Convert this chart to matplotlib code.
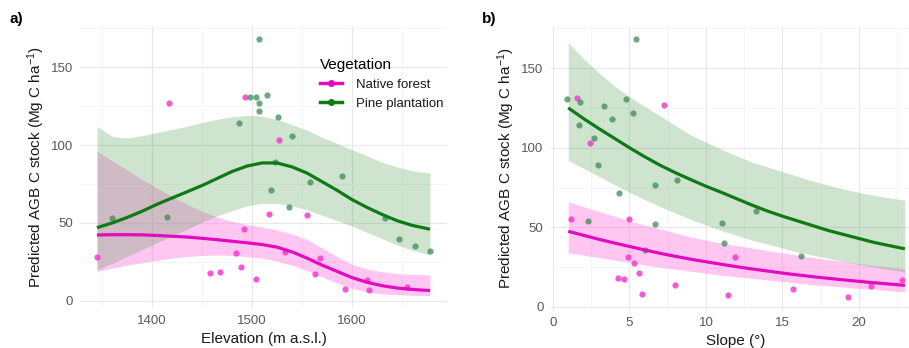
import matplotlib
matplotlib.use("Agg")
import matplotlib.pyplot as plt
from matplotlib.lines import Line2D
from matplotlib.ticker import MultipleLocator

plt.rcParams['font.family'] = ['Liberation Sans', 'DejaVu Sans']
plt.rcParams['mathtext.fontset'] = 'custom'
plt.rcParams['mathtext.rm'] = 'Liberation Sans'
plt.rcParams['mathtext.it'] = 'Liberation Sans:italic'
plt.rcParams['mathtext.default'] = 'regular'

# ---------------- data: panel a (elevation) ----------------
elev_native_x = [1345, 1417, 1493, 1527, 1517, 1555, 1492, 1484, 1489, 1458, 1468, 1504,
                 1533, 1563, 1568, 1593, 1615, 1617, 1655]
elev_native_y = [28, 127, 131, 103, 56, 55, 46, 31, 22, 17.7, 18.8, 14,
                 31.6, 17, 27.5, 8, 13.5, 7, 9]
elev_pine_x = [1507, 1360, 1415, 1487, 1498, 1504, 1515, 1507, 1507, 1526, 1540, 1523,
               1519, 1537, 1558, 1590, 1633, 1647, 1663, 1678]
elev_pine_y = [168, 53, 54, 114, 130.5, 130.5, 132, 126.7, 122, 117.7, 106, 89,
               71, 60, 76.5, 80, 53.4, 40, 35, 32]

elev_grid = [1345, 1360, 1375, 1390, 1405, 1420, 1435, 1450, 1465, 1480, 1495, 1510,
             1525, 1540, 1555, 1570, 1585, 1600, 1615, 1630, 1645, 1660, 1678]
elev_pine_fit = [47, 50, 53.5, 57.5, 62, 66, 70, 74, 78.5, 83, 86.5, 88.5,
                 88.5, 86, 82, 76.5, 71, 65, 60, 55.5, 51.5, 48.5, 46]
elev_pine_lo = [20, 24, 28.5, 33, 37.5, 41.5, 46, 50.5, 54.5, 58, 61, 62.5,
                62.5, 61, 58.5, 55, 51.5, 48, 44, 40, 36, 32.5, 29.5]
elev_pine_hi = [112, 105.5, 104.5, 106, 108, 110, 112, 114.5, 116.5, 118, 119, 118.5,
                116.5, 113, 109.5, 105, 101, 97, 93, 89, 86, 83.5, 82]
elev_native_fit = [42.3, 42.5, 42.5, 42.4, 42, 41.5, 41, 40.2, 39.3, 38.3, 37.3, 36.2,
                   34.5, 31.5, 27.5, 23, 19, 15, 12, 9.8, 8.3, 7.4, 6.7]
elev_native_lo = [19, 21, 23, 24.5, 26, 27.5, 28.5, 29.2, 29.5, 29.2, 28.5, 27.5,
                  25.5, 23, 19.5, 15.5, 11.5, 8, 5.8, 4.6, 4, 3.7, 3.5]
elev_native_hi = [96, 90, 84, 78, 72.5, 67, 62, 57.5, 54, 51, 49, 47.5,
                  45.5, 43, 39.5, 34, 28.5, 23.5, 20.5, 18.8, 17.6, 17, 16.7]

# ---------------- data: panel b (slope) ----------------
slope_native_x = [1.55, 7.25, 2.4, 1.2, 4.97, 4.92, 5.3, 5.6, 4.27, 4.64, 5.8, 8.0,
                  11.46, 11.9, 15.7, 19.26, 20.8, 22.8]
slope_native_y = [131, 127, 103, 55, 55.5, 31.2, 27.3, 21.4, 18.4, 17.6, 8, 13.6,
                  7.8, 31.2, 11.3, 6.3, 13.2, 16.8]
slope_pine_x = [5.4, 0.94, 1.76, 1.72, 3.33, 3.83, 4.75, 5.23, 2.68, 2.92, 4.31, 6.67,
                8.08, 2.31, 6.67, 11.02, 11.2, 13.27, 16.19, 6.0]
slope_pine_y = [168, 130.6, 128.5, 114.5, 126.4, 118, 130.6, 122, 106.3, 89.3, 71.3, 76.3,
                79.7, 53.7, 52.4, 53, 40, 60, 32, 35.8]

slope_grid = [1, 2, 3, 4, 5, 6, 7, 8, 9, 10, 11, 12, 13, 14, 15, 16, 17, 18, 19, 20, 21, 22, 23]
slope_pine_fit = [125, 118.3, 112, 106, 100, 94.3, 89, 84.3, 80, 75.8, 72, 68, 64,
                  60.3, 57, 54, 51, 48, 45.5, 43, 40.5, 38.5, 36.5]
slope_pine_lo = [92, 87, 82, 77, 72, 67.5, 63, 59, 55, 51.5, 48, 45, 42,
                 39.5, 37, 34.5, 32.5, 30.5, 28.5, 26.7, 25, 23.5, 22]
slope_pine_hi = [166, 156, 147, 139, 132, 126, 120, 114, 108, 103.5, 99, 95, 91,
                 88, 85, 82, 79, 76.5, 74, 72, 70, 68.5, 67]
slope_native_fit = [47.5, 45, 42.5, 40.2, 38, 35.8, 33.7, 31.8, 30, 28.4, 26.8, 25.3,
                    23.9, 22.6, 21.3, 20.1, 19, 18, 17, 16.1, 15.2, 14.4, 13.6]
slope_native_lo = [34, 32.5, 31, 29.5, 28, 26.5, 25, 23.7, 22.5, 21.2, 20, 19, 18,
                   17, 16, 15, 14, 13.2, 12.5, 11.7, 11, 10.2, 9.5]
slope_native_hi = [66, 63, 60, 57, 54, 51.5, 49, 46.5, 44, 42, 40, 38.5, 37,
                   35.5, 34, 32.5, 31, 29.7, 28.5, 27.2, 26, 25, 24]

# ---------------- styles ----------------
PINK_LINE = '#e20bbf'
GREEN_LINE = '#0d7a14'
PINK_FILL = '#ff5cdc'
GREEN_FILL = '#4a9e4a'
PINK_PT = '#f23ccb'
GREEN_PT = '#3f8a55'

W, H = 909, 348
fig = plt.figure(figsize=(W / 100, H / 100), dpi=100)


def px_axes(l, r, t, b):
    return fig.add_axes([l / W, 1 - b / H, (r - l) / W, (b - t) / H])


def style(ax):
    for s in ax.spines.values():
        s.set_visible(False)
    ax.set_facecolor('white')
    ax.grid(True, which='major', color='#e8e8e8', lw=0.9, zorder=0)
    ax.grid(True, which='minor', color='#f4f4f4', lw=0.6, zorder=0)
    ax.tick_params(which='both', length=0, labelsize=9.5, labelcolor='#595959', pad=5)
    ax.set_axisbelow(True)


def draw(ax, gx, n_lo, n_hi, n_fit, p_lo, p_hi, p_fit, nx, ny, px, py):
    ax.fill_between(gx, n_lo, n_hi, color=PINK_FILL, alpha=0.35, lw=0, zorder=1)
    ax.fill_between(gx, p_lo, p_hi, color=GREEN_FILL, alpha=0.27, lw=0, zorder=2)
    ax.scatter(nx, ny, s=20, color=PINK_PT, alpha=0.85, lw=0, zorder=3)
    ax.scatter(px, py, s=20, color=GREEN_PT, alpha=0.75, lw=0, zorder=3)
    ax.plot(gx, n_fit, color=PINK_LINE, lw=2.3, zorder=4, solid_capstyle='butt')
    ax.plot(gx, p_fit, color=GREEN_LINE, lw=2.3, zorder=4, solid_capstyle='butt')


ylab = 'Predicted AGB C stock (Mg C ha$^{-1}$)'

# panel a
axa = px_axes(80, 447, 26, 308)
style(axa)
draw(axa, elev_grid, elev_native_lo, elev_native_hi, elev_native_fit,
     elev_pine_lo, elev_pine_hi, elev_pine_fit,
     elev_native_x, elev_native_y, elev_pine_x, elev_pine_y)
axa.set_xlim(1328, 1695)
axa.set_ylim(-4.5, 176.3)
axa.xaxis.set_major_locator(MultipleLocator(100))
axa.xaxis.set_minor_locator(MultipleLocator(50))
axa.yaxis.set_major_locator(MultipleLocator(50))
axa.yaxis.set_minor_locator(MultipleLocator(25))
axa.set_xlabel('Elevation (m a.s.l.)', fontsize=11, labelpad=4, color='#1a1a1a')
axa.set_ylabel(ylab, fontsize=11, labelpad=3, color='#1a1a1a')

# panel b
axb = px_axes(550.5, 921.7, 27, 310)
style(axb)
draw(axb, slope_grid, slope_native_lo, slope_native_hi, slope_native_fit,
     slope_pine_lo, slope_pine_hi, slope_pine_fit,
     slope_native_x, slope_native_y, slope_pine_x, slope_pine_y)
axb.set_xlim(-0.16, 24.1)
axb.set_ylim(-1.9, 175.8)
axb.xaxis.set_major_locator(MultipleLocator(5))
axb.xaxis.set_minor_locator(MultipleLocator(2.5))
axb.yaxis.set_major_locator(MultipleLocator(50))
axb.yaxis.set_minor_locator(MultipleLocator(25))
axb.set_xlabel('Slope (°)', fontsize=11, labelpad=4, color='#1a1a1a')
axb.set_ylabel(ylab, fontsize=11, labelpad=3, color='#1a1a1a')

fig.text(10 / W, 1 - 19 / H, 'a)', fontsize=11, fontweight='bold', va='center', ha='left')
fig.text(482 / W, 1 - 19 / H, 'b)', fontsize=11, fontweight='bold', va='center', ha='left')

handles = [Line2D([], [], color=PINK_LINE, lw=2.5, marker='o', ms=4),
           Line2D([], [], color=GREEN_LINE, lw=2.5, marker='o', ms=4)]
leg = fig.legend(handles, ['Native forest', 'Pine plantation'], title='Vegetation',
                 loc='upper left', bbox_to_anchor=(308 / W, 1 - 46 / H),
                 frameon=False, fontsize=9.5, title_fontsize=11,
                 handlelength=1.7, handletextpad=1.0, labelspacing=0.5)
leg._legend_box.align = 'left'
for t in leg.get_texts():
    t.set_color('#1a1a1a')

fig.savefig('out.png', dpi=100)
